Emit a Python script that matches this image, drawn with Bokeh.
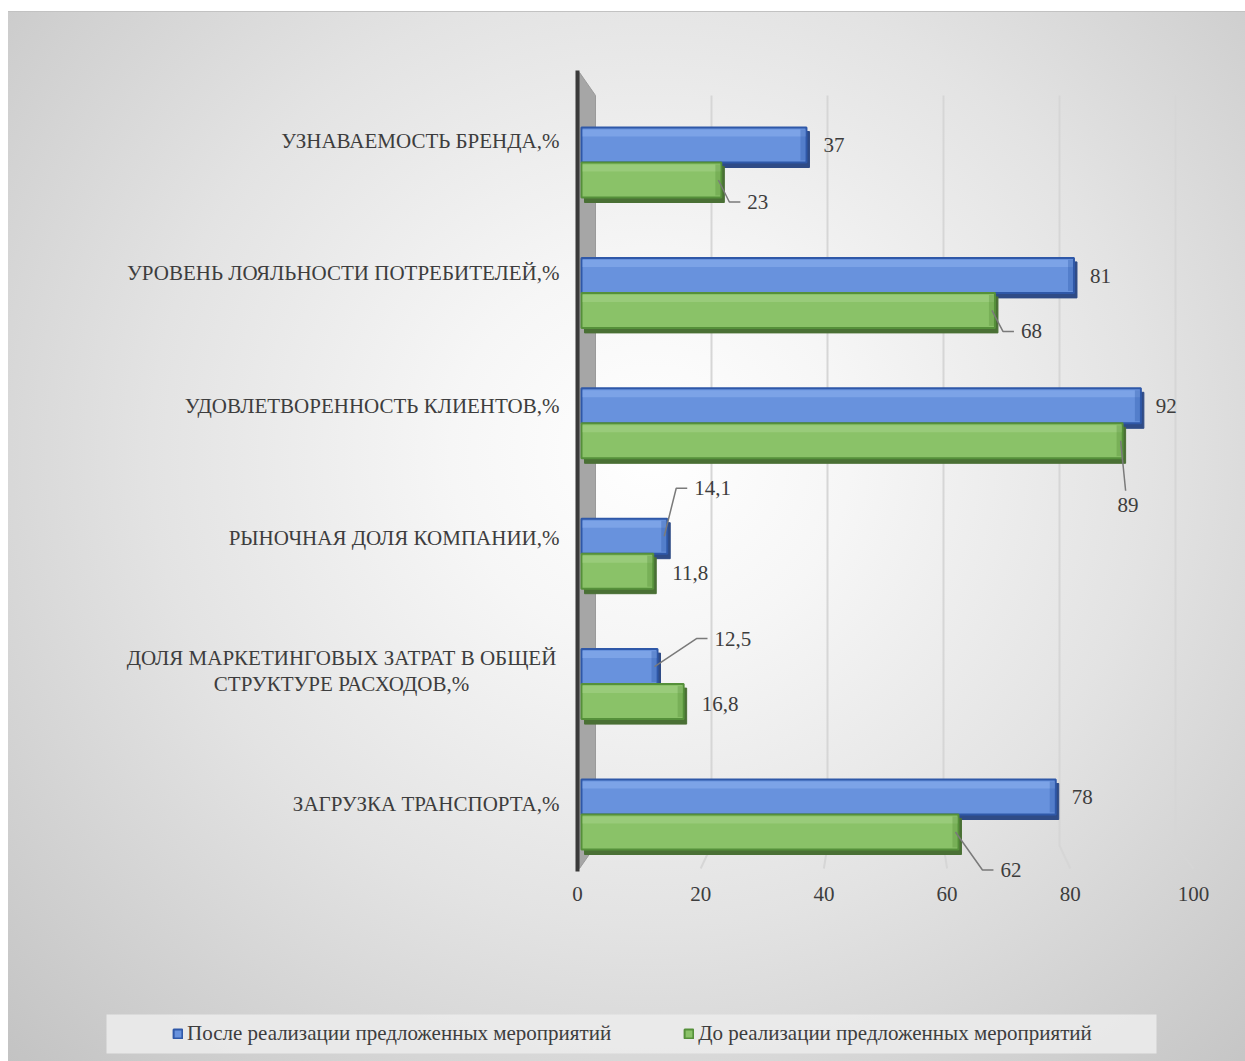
from bokeh.plotting import figure
from bokeh.models import Range1d, Legend, LegendItem, ColumnDataSource
from bokeh.core.properties import value
from bokeh.embed import file_html
from bokeh.resources import INLINE

# ---------------- data ----------------
categories = [
    "УЗНАВАЕМОСТЬ БРЕНДА,%",
    "УРОВЕНЬ ЛОЯЛЬНОСТИ ПОТРЕБИТЕЛЕЙ,%",
    "УДОВЛЕТВОРЕННОСТЬ КЛИЕНТОВ,%",
    "РЫНОЧНАЯ ДОЛЯ КОМПАНИИ,%",
    "ДОЛЯ МАРКЕТИНГОВЫХ ЗАТРАТ В ОБЩЕЙ\nСТРУКТУРЕ РАСХОДОВ,%",
    "ЗАГРУЗКА ТРАНСПОРТА,%",
]
after_values = [37, 81, 92, 14.1, 12.5, 78]
before_values = [23, 68, 89, 11.8, 16.8, 62]
series_names = ["После реализации предложенных мероприятий",
                "До реализации предложенных мероприятий"]
x_ticks = [0, 20, 40, 60, 80, 100]

# label placement (pixel offsets from bar end / bar centre; +dy = down)
after_lbl_dx = [17, 16, 15, 27, 57, 16]
after_lbl_dy = [0, 1, 0, -48, -28, 0]
after_leader = [None, None, None, "side", "side", None]
before_lbl_dx = [26, 26, -5, 19, 18, 42]
before_lbl_dy = [22, 21, 64, 2, 2, 38]
before_leader = ["side", "side", "below", None, None, "side"]

# ---------------- geometry (page pixels) ----------------
W, H = 1245, 1061
ZERO_X = 581.0
SX = 6.08
CAT0_Y = 814.0
SY = 130.4
LABEL_RIGHT = 559
MULTILINE_W = 436


def dx(page_x):
    return (page_x - ZERO_X) / SX


def dy(page_y):
    return (CAT0_Y - page_y) / SY


FONT = "Liberation Serif"
FS = "21px"
TXT = "#3d3d3d"
BAR_H = 35.0 / SY

p = figure(width=W, height=H, output_backend="svg", toolbar_location=None,
           x_range=Range1d(dx(0), dx(W)),
           y_range=Range1d(dy(H), dy(0)),
           x_axis_location=None, y_axis_location=None,
           min_border=0, outline_line_color=None)
p.background_fill_alpha = 0
p.border_fill_alpha = 0
p.xgrid.visible = False
p.ygrid.visible = False
p.styles = {
    "background": (
        "linear-gradient(#c2c2c2, #c2c2c2) 8px 11px / 100% 1px no-repeat, "
        "radial-gradient(ellipse farthest-corner at 52% 42%, "
        "#ffffff 0%, #f6f6f6 22%, #e3e3e3 55%, #c3c3c3 100%) "
        "8px 11px / calc(100% - 8px) calc(100% - 11px) no-repeat, #ffffff"
    ),
}

n = len(categories)
centers = [n - 1 - i for i in range(n)]

# ---------------- 3D backdrop: gridlines and side wall ----------------
grid_xs, grid_ys = [], []
for t in x_ticks[1:]:
    bx = dx(595 + 5.8 * t)
    fx = dx(577 + 6.16 * t)
    grid_xs.append([bx, bx, fx])
    grid_ys.append([dy(95), dy(845), dy(868)])
p.multi_line(grid_xs, grid_ys, line_color="#d6d6d6", line_width=2)

p.patch([dx(579), dx(595), dx(595), dx(579)],
        [dy(72), dy(95), dy(845), dy(868)],
        fill_color="#a6a6a6", line_color="#9a9a9a", line_width=1)
p.segment(x0=[dx(577)], y0=[dy(70)], x1=[dx(577)], y1=[dy(871)],
          line_color="#3a3a3a", line_width=4)


# ---------------- bars ----------------
def draw_series(vals, offset_sign, face, edge, light, shadow):
    ys = [c + offset_sign * BAR_H / 2 for c in centers]
    src = ColumnDataSource(dict(
        v=vals,
        top=[y + BAR_H / 2 for y in ys],
        bottom=[y - BAR_H / 2 for y in ys],
    ))
    sh = ColumnDataSource(dict(
        left=[3 / SX] * n,
        right=[v + 3 / SX for v in vals],
        top=[y + BAR_H / 2 - 4 / SY for y in ys],
        bottom=[y - BAR_H / 2 - 5 / SY for y in ys],
    ))
    p.quad(left="left", right="right", top="top", bottom="bottom", source=sh,
           fill_color=shadow, line_color=shadow, line_width=1)
    r = p.quad(left=0, right="v", top="top", bottom="bottom", source=src,
               fill_color=face, line_color=edge, line_width=2)
    hi = ColumnDataSource(dict(
        left=[1 / SX] * n,
        right=[v - 1 / SX for v in vals],
        top=[y + BAR_H / 2 - 2 / SY for y in ys],
        bottom=[y + BAR_H / 2 - 9 / SY for y in ys],
    ))
    p.quad(left="left", right="right", top="top", bottom="bottom", source=hi,
           fill_color=light, fill_alpha=0.55, line_color=None)
    rs = ColumnDataSource(dict(
        left=[v - 6 / SX for v in vals],
        right=[v - 1 / SX for v in vals],
        top=[y + BAR_H / 2 - 2 / SY for y in ys],
        bottom=[y - BAR_H / 2 + 2 / SY for y in ys],
    ))
    p.quad(left="left", right="right", top="top", bottom="bottom", source=rs,
           fill_color=edge, fill_alpha=0.35, line_color=None)
    return r, ys


r_after, after_y = draw_series(after_values, +1, "#6892dd", "#2f58a8", "#8db0ee", "#2f4b86")
r_before, before_y = draw_series(before_values, -1, "#8ac268", "#55903a", "#a5d488", "#4a7035")


# ---------------- data labels with leader lines ----------------
def draw_labels(vals, ys, ldx, ldy, leaders):
    lx, ly, lt, ox, oy = [], [], [], [], []
    lead_xs, lead_ys = [], []
    for v, y, ddx, ddy, kind in zip(vals, ys, ldx, ldy, leaders):
        lx.append(v)
        ly.append(y)
        lt.append(f"{v:g}".replace(".", ","))
        ox.append(ddx)
        oy.append(ddy)
        if kind == "side":
            ty = y - ddy / SY
            lead_xs.append([v - 3 / SX, v + (ddx - 18) / SX, v + (ddx - 7) / SX])
            lead_ys.append([y, ty, ty])
        elif kind == "below":
            lead_xs.append([v - 2 / SX, v + (ddx + 8) / SX])
            lead_ys.append([y, y - (ddy - 14) / SY])
    if lead_xs:
        p.multi_line(lead_xs, lead_ys, line_color="#7a7a7a", line_width=1.5)
    p.text(x=lx, y=ly, text=lt, x_offset=ox, y_offset=oy,
           text_font=value(FONT), text_font_size=FS, text_color=TXT,
           text_align="left", text_baseline="middle")


draw_labels(after_values, after_y, after_lbl_dx, after_lbl_dy, after_leader)
draw_labels(before_values, before_y, before_lbl_dx, before_lbl_dy, before_leader)

# ---------------- category labels ----------------
cat_y = [c + (22 - 2.2 * i) / SY for i, c in enumerate(centers)]
single = [i for i, c in enumerate(categories) if "\n" not in c]
multi = [i for i, c in enumerate(categories) if "\n" in c]
p.text(x=[dx(LABEL_RIGHT)] * len(single), y=[cat_y[i] for i in single],
       text=[categories[i] for i in single],
       text_font=value(FONT), text_font_size=FS, text_color=TXT,
       text_align="right", text_baseline="middle")
p.text(x=[dx(LABEL_RIGHT - MULTILINE_W / 2)] * len(multi), y=[cat_y[i] for i in multi],
       text=[categories[i] for i in multi],
       text_font=value(FONT), text_font_size=FS, text_color=TXT,
       text_align="center", text_baseline="middle", text_line_height=1.1)

# ---------------- value axis labels ----------------
p.text(x=[dx(577 + 6.16 * t) for t in x_ticks], y=[dy(893)] * len(x_ticks),
       text=[str(t) for t in x_ticks],
       text_font=value(FONT), text_font_size=FS, text_color=TXT,
       text_align="center", text_baseline="middle")

# ---------------- legend ----------------
p.quad(left=[dx(106)], right=[dx(1156)], top=[dy(1014)], bottom=[dy(1053)],
       fill_color="#ebebeb", fill_alpha=0.9, line_color=None)
legend = Legend(items=[LegendItem(label=series_names[0], renderers=[r_after]),
                       LegendItem(label=series_names[1], renderers=[r_before])],
                orientation="horizontal", location=(172, 15),
                padding=0, margin=0, spacing=72,
                glyph_width=11, glyph_height=11, label_standoff=4,
                label_height=22,
                background_fill_alpha=0, border_line_color=None,
                label_text_font=FONT, label_text_font_size=FS,
                label_text_color=TXT)
p.add_layout(legend, "center")

open("out.html", "w").write(file_html(p, INLINE))
